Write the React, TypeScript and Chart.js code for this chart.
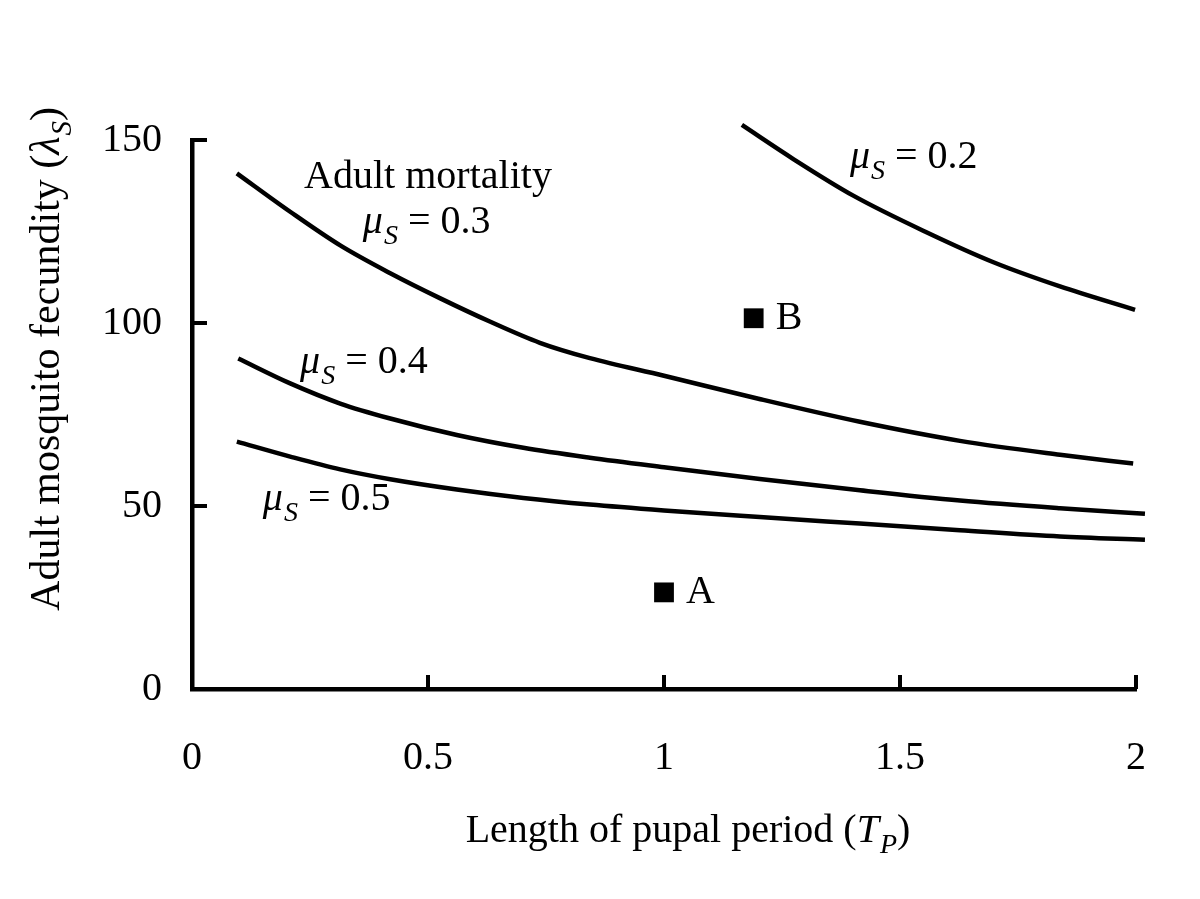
import React, { useEffect, useRef } from "react";
import { Chart, registerables } from "chart.js";

Chart.register(...registerables);

const FONT = '"Liberation Serif", "Times New Roman", Times, serif';

// Axis ticks
const xTicks = [0, 0.5, 1, 1.5, 2];
const yTicks = [0, 50, 100, 150];

// Curves: length of pupal period vs fecundity threshold
const mu02X = [1.165, 1.274, 1.401, 1.556, 1.698, 1.839, 1.998];
const mu02Y = [154.1, 144.8, 134.8, 124.8, 116.6, 110.0, 103.6];

const mu03X = [0.095, 0.208, 0.314, 0.42, 0.525, 0.631, 0.737, 0.843, 1.0, 1.2, 1.415, 1.627, 1.839, 1.994];
const mu03Y = [140.9, 130.4, 121.2, 113.6, 106.8, 100.4, 94.6, 90.4, 85.6, 79.3, 73.0, 67.8, 64.0, 61.6];

const mu04X = [0.098, 0.208, 0.314, 0.42, 0.561, 0.702, 0.843, 1.0, 1.203, 1.415, 1.627, 1.839, 2.019];
const mu04Y = [90.3, 83.5, 78.0, 73.9, 69.4, 65.9, 63.2, 60.6, 57.4, 54.3, 51.5, 49.4, 47.9];

const mu05X = [0.095, 0.208, 0.314, 0.42, 0.561, 0.702, 0.843, 1.0, 1.203, 1.415, 1.627, 1.839, 2.019];
const mu05Y = [67.6, 63.5, 60.0, 57.3, 54.5, 52.2, 50.4, 48.8, 47.0, 45.2, 43.4, 41.7, 40.8];

// Marked points
const pointNames = ["A", "B"];
const pointX = [1.0, 1.19];
const pointY = [26.4, 101.3];

// Curve labels (mu values) and their anchor (data coordinates: left x, baseline y)
const muValues = ["0.2", "0.3", "0.4", "0.5"];
const muLabelX = [1.394, 0.362, 0.229, 0.15];
const muLabelY = [142.35, 124.6, 86.3, 48.9];

const headerText = "Adult mortality";
const headerX = 0.5;
const headerY = 136.9;

type Seg = { t: string; it?: boolean; sub?: boolean };

function segFont(s: Seg, size: number) {
  const sz = s.sub ? Math.round(size * 0.7) : size;
  return `${s.it ? "italic " : ""}${sz}px ${FONT}`;
}

function measureSegs(ctx: CanvasRenderingContext2D, segs: Seg[], size: number) {
  let w = 0;
  for (const s of segs) {
    ctx.font = segFont(s, size);
    w += ctx.measureText(s.t).width + (s.sub ? 1 : 0);
  }
  return w;
}

function drawSegs(ctx: CanvasRenderingContext2D, segs: Seg[], x: number, y: number, size: number) {
  let cx = x;
  ctx.textAlign = "left";
  ctx.textBaseline = "alphabetic";
  for (const s of segs) {
    ctx.font = segFont(s, size);
    if (s.sub) {
      ctx.fillText(s.t, cx + 1, y + Math.round(size * 0.28));
      cx += ctx.measureText(s.t).width + 1;
    } else {
      ctx.fillText(s.t, cx, y);
      cx += ctx.measureText(s.t).width;
    }
  }
}

const annotPlugin = {
  id: "annot",
  afterDraw(chart: any) {
    const { ctx, chartArea } = chart;
    const xs = chart.scales.x;
    const ys = chart.scales.y;
    ctx.save();
    ctx.fillStyle = "#000";
    ctx.strokeStyle = "#000";
    // inward tick marks
    ctx.lineWidth = 4;
    ctx.lineCap = "butt";
    for (const v of xTicks) {
      if (v === 0) continue;
      const px = xs.getPixelForValue(v);
      ctx.beginPath();
      ctx.moveTo(px, chartArea.bottom);
      ctx.lineTo(px, chartArea.bottom - 14);
      ctx.stroke();
    }
    for (const v of yTicks) {
      if (v === 0) continue;
      const py = ys.getPixelForValue(v);
      ctx.beginPath();
      ctx.moveTo(chartArea.left, py);
      ctx.lineTo(chartArea.left + 15, py);
      ctx.stroke();
    }

    // curve labels
    for (let i = 0; i < muValues.length; i++) {
      const px = xs.getPixelForValue(muLabelX[i]);
      const py = ys.getPixelForValue(muLabelY[i]);
      drawSegs(
        ctx,
        [
          { t: "\u03bc", it: true },
          { t: "S", it: true, sub: true },
          { t: " = " + muValues[i] },
        ],
        px,
        py,
        40
      );
    }
    // header
    ctx.font = `40px ${FONT}`;
    ctx.textAlign = "center";
    ctx.textBaseline = "alphabetic";
    ctx.fillText(headerText, xs.getPixelForValue(headerX), ys.getPixelForValue(headerY));

    // point labels
    for (let i = 0; i < pointNames.length; i++) {
      const px = xs.getPixelForValue(pointX[i]);
      const py = ys.getPixelForValue(pointY[i]);
      ctx.font = `40px ${FONT}`;
      ctx.textAlign = "left";
      ctx.textBaseline = "alphabetic";
      ctx.fillText(pointNames[i], px + 22, py + 11);
    }

    // x axis title
    const xSegs: Seg[] = [
      { t: "Length of pupal period (" },
      { t: "T", it: true },
      { t: "P", it: true, sub: true },
      { t: ")" },
    ];
    const xw = measureSegs(ctx, xSegs, 40);
    drawSegs(ctx, xSegs, 688 - xw / 2, 842, 40);

    // y axis title (rotated)
    const ySegs: Seg[] = [
      { t: "Adult mosquito fecundity (" },
      { t: "\u03bb", it: true },
      { t: "S", it: true, sub: true },
      { t: ")" },
    ];
    const yw = measureSegs(ctx, ySegs, 42);
    ctx.translate(59, 359);
    ctx.rotate(-Math.PI / 2);
    drawSegs(ctx, ySegs, -yw / 2, 0, 42);
    ctx.restore();
  },
};

function toXY(xs: number[], ys: number[]) {
  return xs.map((x, i) => ({ x, y: ys[i] }));
}

export default function App() {
  const ref = useRef<HTMLCanvasElement | null>(null);
  useEffect(() => {
    if (!ref.current) return;
    const lineDs = (label: string, xs: number[], ys: number[]) => ({
      label,
      data: toXY(xs, ys),
      showLine: true,
      borderColor: "#000",
      backgroundColor: "#000",
      borderWidth: 4.5,
      pointRadius: 0,
      tension: 0.4,
      cubicInterpolationMode: "monotone" as const,
      clip: false as any,
      fill: false,
    });
    const chart = new Chart(ref.current, {
      type: "scatter",
      data: {
        datasets: [
          lineDs("mu=0.2", mu02X, mu02Y),
          lineDs("mu=0.3", mu03X, mu03Y),
          lineDs("mu=0.4", mu04X, mu04Y),
          lineDs("mu=0.5", mu05X, mu05Y),
          {
            label: "points",
            data: toXY(pointX, pointY),
            showLine: false,
            pointStyle: "rect",
            pointRadius: 14,
            borderWidth: 0,
            backgroundColor: "#000",
            borderColor: "#000",
            clip: false as any,
          },
        ],
      },
      options: {
        responsive: false,
        animation: false,
        events: [],
        layout: { padding: { top: 140, right: 64, left: 0, bottom: 0 } },
        plugins: {
          legend: { display: false },
          tooltip: { enabled: false },
          title: { display: false },
        },
        scales: {
          x: {
            type: "linear",
            min: 0,
            max: 2,
            afterFit: (s: any) => {
              s.height = 210;
            },
            grid: { display: false, drawTicks: false, tickLength: 0 },
            border: { display: true, color: "#000", width: 4.5 },
            ticks: {
              stepSize: 0.5,
              padding: 45,
              color: "#000",
              font: { family: FONT, size: 40 },
              maxRotation: 0,
              autoSkip: false,
              callback: (v: any) => String(Number(v)),
            },
          },
          y: {
            type: "linear",
            min: 0,
            max: 150,
            afterFit: (s: any) => {
              s.width = 192;
            },
            grid: { display: false, drawTicks: false, tickLength: 0 },
            border: { display: true, color: "#000", width: 4.5 },
            ticks: {
              stepSize: 50,
              padding: 30,
              color: "#000",
              font: { family: FONT, size: 40 },
              autoSkip: false,
              callback: (v: any) => String(Number(v)),
            },
          },
        },
      },
      plugins: [annotPlugin],
    });
    return () => chart.destroy();
  }, []);
  return (
    <div style={{ position: "absolute", left: 0, top: 0, width: 1200, height: 899, background: "#fff" }}>
      <canvas ref={ref} width={1200} height={899} style={{ display: "block", width: 1200, height: 899 }} />
    </div>
  );
}
